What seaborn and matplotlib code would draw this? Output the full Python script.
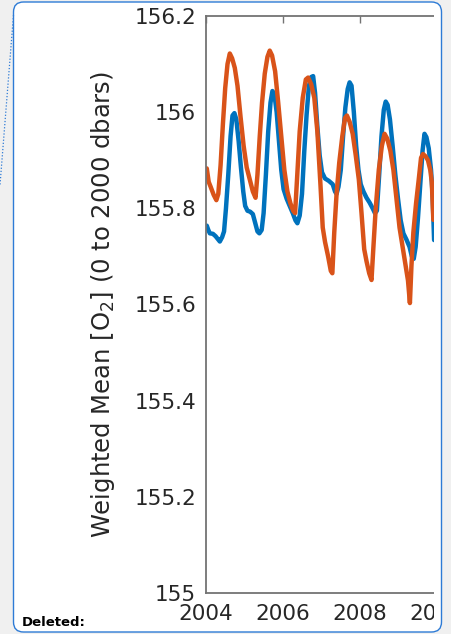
import numpy as np
import pandas as pd
import matplotlib
matplotlib.use("Agg")
import matplotlib.pyplot as plt
import seaborn as sns
from matplotlib.patches import FancyBboxPatch, Rectangle
from matplotlib.lines import Line2D

# values
blue_year = [2004.02, 2004.06, 2004.10, 2004.18, 2004.25, 2004.32, 2004.36, 2004.42, 2004.47,
             2004.52, 2004.58, 2004.64, 2004.69, 2004.74, 2004.79, 2004.85, 2004.91, 2004.97,
             2005.02, 2005.08, 2005.15, 2005.22, 2005.28, 2005.34, 2005.39, 2005.45, 2005.50,
             2005.56, 2005.62, 2005.68, 2005.73, 2005.78, 2005.84, 2005.90, 2005.96, 2006.02,
             2006.10, 2006.18, 2006.26, 2006.33, 2006.38, 2006.44, 2006.50, 2006.56, 2006.62,
             2006.68, 2006.74, 2006.79, 2006.84, 2006.90, 2006.96, 2007.02, 2007.10, 2007.20,
             2007.30, 2007.36, 2007.40, 2007.45, 2007.51, 2007.57, 2007.63, 2007.69, 2007.74,
             2007.79, 2007.85, 2007.91, 2007.97, 2008.03, 2008.10, 2008.18, 2008.26, 2008.34,
             2008.40, 2008.45, 2008.51, 2008.57, 2008.63, 2008.68, 2008.73, 2008.79, 2008.86,
             2008.93, 2009.00, 2009.07, 2009.14, 2009.22, 2009.30, 2009.36, 2009.41, 2009.46,
             2009.52, 2009.58, 2009.64, 2009.69, 2009.74, 2009.80, 2009.86, 2009.90, 2009.94]
blue_o2 = [155.764, 155.755, 155.748, 155.747, 155.742, 155.735, 155.731, 155.740, 155.752,
           155.800, 155.870, 155.950, 155.993, 155.998, 155.985, 155.940, 155.885, 155.835,
           155.805, 155.795, 155.793, 155.788, 155.770, 155.752, 155.748, 155.755, 155.790,
           155.870, 155.960, 156.020, 156.044, 156.038, 156.000, 155.940, 155.880, 155.840,
           155.820, 155.805, 155.790, 155.775, 155.769, 155.785, 155.830, 155.920, 155.995,
           156.055, 156.073, 156.075, 156.040, 155.970, 155.910, 155.875, 155.862, 155.857,
           155.850, 155.835, 155.830, 155.845, 155.880, 155.950, 156.010, 156.048, 156.062,
           156.055, 156.000, 155.930, 155.880, 155.850, 155.835, 155.822, 155.812, 155.800,
           155.790, 155.795, 155.870, 155.950, 156.005, 156.022, 156.015, 155.985, 155.930,
           155.870, 155.820, 155.775, 155.748, 155.735, 155.720, 155.700, 155.695, 155.720,
           155.780, 155.850, 155.920, 155.955, 155.948, 155.925, 155.880, 155.830, 155.734]

red_year = [2004.02, 2004.07, 2004.12, 2004.20, 2004.27, 2004.32, 2004.38, 2004.44, 2004.50,
            2004.56, 2004.62, 2004.68, 2004.75, 2004.82, 2004.90, 2004.98, 2005.06, 2005.14,
            2005.22, 2005.29, 2005.34, 2005.40, 2005.46, 2005.53, 2005.60, 2005.66, 2005.72,
            2005.80, 2005.88, 2005.96, 2006.04, 2006.12, 2006.20, 2006.27, 2006.32, 2006.37,
            2006.44, 2006.52, 2006.60, 2006.66, 2006.74, 2006.82, 2006.90, 2006.98, 2007.04,
            2007.10, 2007.18, 2007.25, 2007.29, 2007.34, 2007.40, 2007.47, 2007.55, 2007.62,
            2007.67, 2007.74, 2007.82, 2007.90, 2007.98, 2008.05, 2008.12, 2008.18, 2008.25,
            2008.31, 2008.36, 2008.42, 2008.50, 2008.58, 2008.65, 2008.72, 2008.80, 2008.88,
            2008.96, 2009.04, 2009.12, 2009.20, 2009.26, 2009.31, 2009.35, 2009.40, 2009.47,
            2009.54, 2009.60, 2009.65, 2009.72, 2009.78, 2009.84, 2009.88, 2009.92]
red_o2 = [155.883, 155.855, 155.845, 155.828, 155.817, 155.830, 155.890, 155.975, 156.050,
          156.100, 156.122, 156.112, 156.092, 156.055, 155.990, 155.930, 155.885, 155.860,
          155.835, 155.822, 155.870, 155.950, 156.020, 156.080, 156.115, 156.128, 156.118,
          156.085, 156.020, 155.950, 155.880, 155.835, 155.810, 155.795, 155.790, 155.860,
          155.960, 156.030, 156.068, 156.072, 156.058, 156.030, 155.960, 155.850, 155.760,
          155.730, 155.700, 155.670, 155.665, 155.750, 155.830, 155.895, 155.950, 155.988,
          155.993, 155.980, 155.955, 155.910, 155.860, 155.790, 155.715, 155.690, 155.665,
          155.651, 155.720, 155.800, 155.880, 155.930, 155.955, 155.945, 155.920, 155.880,
          155.820, 155.760, 155.720, 155.680, 155.650, 155.603, 155.680, 155.750, 155.810,
          155.860, 155.905, 155.913, 155.908, 155.900, 155.880, 155.855, 155.776]

x_ticks = [2004, 2006, 2008, 2010]
y_ticks = [155, 155.2, 155.4, 155.6, 155.8, 156, 156.2]
y_tick_labels = ["155", "155.2", "155.4", "155.6", "155.8", "156", "156.2"]

blue_df = pd.DataFrame({"year": blue_year, "o2": blue_o2})
red_df = pd.DataFrame({"year": red_year, "o2": red_o2})

sns.set_style("white")
plt.rcParams['font.family'] = ['DejaVu Sans']
plt.rcParams['mathtext.fontset'] = 'dejavusans'

W, H = 451, 634
fig = plt.figure(figsize=(W / 100, H / 100), dpi=100, facecolor='#f0f0f0')

# white comment box behind the chart
fig.patches.append(FancyBboxPatch((13.5 / 100, 2 / 100), 428 / 100, 630 / 100,
                                  boxstyle="round,pad=0,rounding_size=0.1",
                                  transform=fig.dpi_scale_trans, facecolor='white',
                                  edgecolor='none', zorder=-1))

ax_right = 206 + 6.6 * 38.4
ax = fig.add_axes([206 / W, (H - 593) / H, (ax_right - 206) / W, 577 / H])
ax.set_facecolor('white')

sns.lineplot(data=blue_df, x="year", y="o2", color='#0072BD', lw=3.2, sort=False,
             estimator=None, ax=ax)
sns.lineplot(data=red_df, x="year", y="o2", color='#D95319', lw=3.2, sort=False,
             estimator=None, ax=ax)

ax.set_xlim(2004, 2010.6)
ax.set_ylim(155, 156.2)
ax.set_xticks(x_ticks)
ax.set_yticks(y_ticks)
ax.set_yticklabels(y_tick_labels)
ax.set_xlabel("")
ax.set_ylabel("Weighted Mean [O$_2$] (0 to 2000 dbars)", fontsize=17.5, color='#262626')
ax.yaxis.set_label_coords(-0.35, 0.5)

for s in ax.spines.values():
    s.set_color('#737373')
    s.set_linewidth(1.3)
ax.tick_params(axis='both', direction='in', length=5, width=1, color='#737373',
               labelsize=15.5, labelcolor='#262626', top=True, right=True)
ax.tick_params(axis='y', pad=7)
ax.tick_params(axis='x', pad=8)

# crop of the page on the right side
fig.patches.append(Rectangle((434 / 100, 12 / 100), 7.5 / 100, 610 / 100,
                             transform=fig.dpi_scale_trans, facecolor='white',
                             edgecolor='none', zorder=5))
fig.patches.append(Rectangle((441.5 / 100, 0), 10 / 100, H / 100,
                             transform=fig.dpi_scale_trans, facecolor='#f0f0f0',
                             edgecolor='none', zorder=5))
fig.patches.append(FancyBboxPatch((13.5 / 100, 2 / 100), 428 / 100, 630 / 100,
                                  boxstyle="round,pad=0,rounding_size=0.1",
                                  transform=fig.dpi_scale_trans, facecolor='none',
                                  edgecolor='#2e7bd6', lw=1.0, zorder=6))
fig.lines.append(Line2D([13.5 / 100, 0], [(H - 15) / 100, (H - 185) / 100],
                        transform=fig.dpi_scale_trans, color='#2e7bd6', lw=0.9,
                        ls=(0, (1, 1.5)), zorder=6))

fig.text(22 / W, (H - 622) / H, "Deleted:", fontsize=9.5, fontweight='bold',
         color='black', va='center', ha='left', zorder=7)

fig.savefig("out.png", dpi=100, facecolor=fig.get_facecolor())
